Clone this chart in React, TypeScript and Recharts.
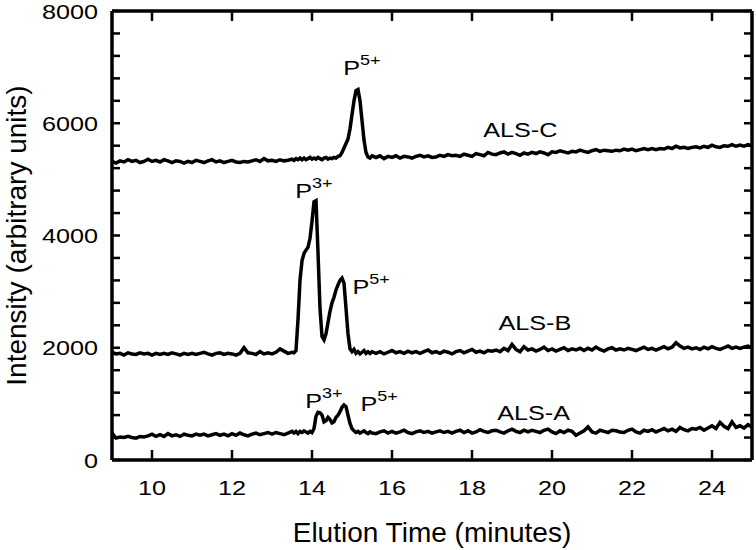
import React from "react";
import { LineChart, Line, XAxis, YAxis, ReferenceDot } from "recharts";

// elution time grid (minutes); finer around the peaks
const times1 = [
  9.0, 9.1, 9.2, 9.3, 9.4, 9.5, 9.6, 9.7, 9.8, 9.9,
  10.0, 10.1, 10.2, 10.3, 10.4, 10.5, 10.6, 10.7, 10.8, 10.9,
  11.0, 11.1, 11.2, 11.3, 11.4, 11.5, 11.6, 11.7, 11.8, 11.9,
  12.0, 12.1, 12.2, 12.3, 12.4, 12.5, 12.6, 12.7, 12.8, 12.9,
  13.0, 13.1, 13.2, 13.3, 13.4, 13.5,
];
const times2 = [
  13.55, 13.6, 13.65, 13.7, 13.75, 13.8, 13.85, 13.9, 13.95, 14.0,
  14.05, 14.1, 14.15, 14.2, 14.25, 14.3, 14.35, 14.4, 14.45, 14.5,
  14.55, 14.6, 14.65, 14.7, 14.75, 14.8, 14.85, 14.9, 14.95, 15.0,
  15.05, 15.1, 15.15, 15.2, 15.25, 15.3, 15.35, 15.4, 15.45, 15.5,
];
const times3 = [
  15.6, 15.7, 15.8, 15.9, 16.0, 16.1, 16.2, 16.3, 16.4, 16.5,
  16.6, 16.7, 16.8, 16.9, 17.0, 17.1, 17.2, 17.3, 17.4, 17.5,
  17.6, 17.7, 17.8, 17.9, 18.0, 18.1, 18.2, 18.3, 18.4, 18.5,
  18.6, 18.7, 18.8, 18.9, 19.0, 19.1, 19.2, 19.3, 19.4, 19.5,
  19.6, 19.7, 19.8, 19.9, 20.0, 20.1, 20.2, 20.3, 20.4, 20.5,
  20.6, 20.7, 20.8, 20.9, 21.0, 21.1, 21.2, 21.3, 21.4, 21.5,
  21.6, 21.7, 21.8, 21.9, 22.0, 22.1, 22.2, 22.3, 22.4, 22.5,
  22.6, 22.7, 22.8, 22.9, 23.0, 23.1, 23.2, 23.3, 23.4, 23.5,
  23.6, 23.7, 23.8, 23.9, 24.0, 24.1, 24.2, 24.3, 24.4, 24.5,
  24.6, 24.7, 24.8, 24.9, 25.0,
];

const alsC1 = [
  5320, 5290, 5330, 5310, 5350, 5320, 5340, 5300, 5320, 5360,
  5320, 5340, 5310, 5350, 5330, 5300, 5330, 5320, 5290, 5320,
  5300, 5340, 5320, 5300, 5330, 5350, 5310, 5330, 5300, 5320,
  5340, 5310, 5300, 5320, 5310, 5330, 5350, 5320, 5370, 5330,
  5340, 5320, 5350, 5330, 5340, 5360,
];
const alsC2 = [
  5340, 5370, 5350, 5380, 5350, 5380, 5350, 5370, 5390, 5360,
  5380, 5360, 5390, 5370, 5350, 5380, 5390, 5360, 5380, 5370,
  5390, 5380, 5410, 5420, 5480, 5560, 5640, 5720, 5900, 6150,
  6400, 6580, 6600, 6400, 6050, 5700, 5480, 5400, 5380, 5420,
];
const alsC3 = [
  5390, 5420, 5370, 5410, 5390, 5420, 5380, 5410, 5400, 5380,
  5410, 5430, 5400, 5420, 5390, 5400, 5430, 5410, 5440, 5420,
  5430, 5410, 5450, 5430, 5410, 5460, 5440, 5420, 5480, 5450,
  5440, 5470, 5490, 5450, 5480, 5460, 5430, 5470, 5450, 5480,
  5460, 5490, 5470, 5440, 5490, 5480, 5510, 5490, 5470, 5500,
  5490, 5520, 5500, 5480, 5510, 5530, 5500, 5520, 5510, 5500,
  5520, 5510, 5540, 5520, 5540, 5510, 5530, 5550, 5530, 5550,
  5530, 5550, 5540, 5570, 5550, 5590, 5560, 5570, 5550, 5570,
  5580, 5560, 5590, 5570, 5610, 5580, 5570, 5600, 5590, 5620,
  5590, 5610, 5590, 5620, 5600,
];

const alsB1 = [
  1920, 1890, 1900, 1870, 1910, 1890, 1880, 1910, 1890, 1900,
  1870, 1900, 1880, 1900, 1880, 1910, 1890, 1870, 1900, 1880,
  1900, 1880, 1900, 1920, 1890, 1870, 1900, 1910, 1880, 1900,
  1890, 1870, 1900, 2000, 1910, 1900, 1880, 1930, 1890, 1910,
  1890, 1920, 1980, 1940, 1900, 1920,
];
const alsB2 = [
  1910, 1950, 2500, 3200, 3550, 3680, 3740, 3790, 3950, 4250,
  4600, 4620, 3700, 2700, 2200, 2140, 2250, 2450, 2650, 2800,
  2900, 3030, 3120, 3200, 3240, 3150, 2700, 2250, 1980, 1930,
  1970, 1900, 1930, 1890, 1920, 1950, 1900, 1930, 1900, 1930,
];
const alsB3 = [
  1900, 1930, 1890, 1920, 1950, 1910, 1930, 1900, 1940, 1910,
  1930, 1900, 1930, 1960, 1910, 1930, 1900, 1940, 1920, 1890,
  1930, 1950, 1910, 1940, 1970, 1920, 1940, 1910, 1950, 1940,
  1960, 1930, 1990, 1950, 2060, 1970, 1930, 2020, 1960, 1980,
  1940, 1970, 2010, 1950, 1980, 1940, 1970, 2000, 1950, 1980,
  1960, 1990, 1950, 1990, 1960, 2010, 1970, 1940, 1980, 2000,
  1960, 1980, 1960, 1990, 1970, 1950, 1980, 2010, 1970, 1990,
  1960, 1990, 2020, 1980, 2010, 2090, 2030, 1990, 2010, 1980,
  2000, 1970, 2010, 1980, 2020, 1990, 1970, 2000, 2030, 1990,
  2010, 1990, 2010, 2030, 2000,
];

const alsA1 = [
  480, 390, 410, 400, 420, 400, 390, 420, 410, 430,
  460, 420, 450, 420, 470, 430, 450, 420, 460, 440,
  430, 460, 440, 460, 430, 450, 470, 440, 460, 430,
  470, 440, 480, 450, 430, 460, 480, 450, 470, 490,
  460, 490, 470, 450, 480, 510,
];
const alsA2 = [
  480, 510, 470, 510, 490, 520, 500, 480, 510, 490,
  560, 780, 850, 840, 800, 680, 700, 760, 720, 660,
  680, 760, 800, 860, 940, 980, 950, 800, 650, 560,
  520, 490, 510, 480, 500, 520, 490, 470, 500, 480,
];
const alsA3 = [
  470, 500, 520, 480, 510, 480, 500, 530, 490, 470,
  500, 520, 490, 510, 480, 500, 520, 490, 510, 480,
  510, 530, 490, 520, 480, 500, 540, 510, 490, 520,
  530, 500, 480, 520, 550, 510, 490, 530, 500, 530,
  510, 490, 530, 550, 500, 470, 520, 490, 530, 510,
  440, 480, 520, 590, 500, 480, 530, 510, 490, 530,
  520, 500, 490, 530, 550, 500, 480, 530, 510, 540,
  500, 530, 560, 520, 550, 510, 580, 540, 520, 560,
  550, 580, 530, 570, 610, 560, 670, 600, 560, 680,
  580, 610, 570, 630, 590,
];

const xTicks = [10, 12, 14, 16, 18, 20, 22, 24];
const yTicks = [
  0, 400, 800, 1200, 1600, 2000, 2400, 2800, 3200, 3600, 4000,
  4400, 4800, 5200, 5600, 6000, 6400, 6800, 7200, 7600, 8000,
];

// annotations: [main text, superscript, time, intensity]
const notes: [string, string, number, number][] = [
  ["P", "5+", 14.78, 6860],
  ["P", "3+", 13.58, 4668],
  ["P", "5+", 15.01, 2958],
  ["P", "3+", 13.83, 926],
  ["P", "5+", 15.21, 873],
  ["ALS-C", "", 18.28, 5755],
  ["ALS-B", "", 18.66, 2316],
  ["ALS-A", "", 18.63, 713],
];

const times = [...times1, ...times2, ...times3];
const alsA = [...alsA1, ...alsA2, ...alsA3];
const alsB = [...alsB1, ...alsB2, ...alsB3];
const alsC = [...alsC1, ...alsC2, ...alsC3];
const data = times.map((t, i) => ({ t, a: alsA[i], b: alsB[i], c: alsC[i] }));

const FONT = "'Liberation Sans', Arial, Helvetica, sans-serif";
const SX = 1.2;
const TICK_W = 2.5;

// ticks point into the plot on all four sides
const BottomTick = (props: any) => {
  const { x, y, payload } = props;
  return (
    <g>
      <line x1={x} y1={y} x2={x} y2={y - 10} stroke="#000" strokeWidth={TICK_W} />
      <text transform={`translate(${x} ${y + 20}) scale(${SX} 1)`} textAnchor="middle"
        dy="0.72em" fontSize={21} fontFamily={FONT} fill="#000">
        {payload.value}
      </text>
    </g>
  );
};

const TopTick = (props: any) => {
  const { x, y } = props;
  return <line x1={x} y1={y} x2={x} y2={y + 10} stroke="#000" strokeWidth={TICK_W} />;
};

const LeftTick = (props: any) => {
  const { x, y, payload } = props;
  return (
    <g>
      <line x1={x} y1={y} x2={x + 8} y2={y} stroke="#000" strokeWidth={TICK_W} />
      {payload.value % 2000 === 0 && (
        <text transform={`translate(${x - 14} ${y}) scale(${SX} 1)`} textAnchor="end"
          dy="0.36em" fontSize={21} fontFamily={FONT} fill="#000">
          {payload.value}
        </text>
      )}
    </g>
  );
};

const RightTick = (props: any) => {
  const { x, y } = props;
  return <line x1={x} y1={y} x2={x - 8} y2={y} stroke="#000" strokeWidth={TICK_W} />;
};

const noteLabel = (main: string, sup: string) => (props: any) => {
  const vb = props.viewBox;
  const cx = vb.x + vb.width / 2;
  const cy = vb.y + vb.height / 2;
  return (
    <text transform={`translate(${cx} ${cy}) scale(${SX} 1)`} fontSize={21}
      fontFamily={FONT} fill="#000">
      {main}
      {sup && <tspan dy={-10} fontSize={15}>{sup}</tspan>}
    </text>
  );
};

export default function App() {
  const axisLine = { stroke: "#000", strokeWidth: 3.5 };
  return (
    <div style={{ position: "absolute", left: 0, top: 0, background: "#fff" }}>
      <LineChart width={756} height={550} data={data}
        margin={{ top: 10, right: 3, bottom: 0, left: 0 }}>
        <XAxis dataKey="t" type="number" domain={[9, 25]} ticks={xTicks}
          interval={0} allowDataOverflow height={90} tickSize={0} tickMargin={0}
          axisLine={axisLine} tickLine={false} tick={BottomTick}
          label={{
            content: (p: any) => (
              <text x={p.viewBox.x + p.viewBox.width / 2} y={p.viewBox.y + 82}
                textAnchor="middle" fontSize={28} fontFamily={FONT} fill="#000">
                Elution Time (minutes)
              </text>
            ),
          }} />
        <XAxis xAxisId="top" dataKey="t" orientation="top" type="number" domain={[9, 25]}
          ticks={xTicks} interval={0} allowDataOverflow height={1} tickSize={0}
          tickMargin={0} axisLine={axisLine} tickLine={false} tick={TopTick} />
        <YAxis type="number" domain={[0, 8000]} ticks={yTicks} interval={0}
          allowDataOverflow width={112} tickSize={0} tickMargin={0}
          axisLine={axisLine} tickLine={false} tick={LeftTick}
          label={{
            content: (p: any) => (
              <text transform={`translate(26 ${p.viewBox.y + p.viewBox.height / 2}) rotate(-90)`}
                textAnchor="middle" fontSize={28} fontFamily={FONT} fill="#000">
                Intensity (arbitrary units)
              </text>
            ),
          }} />
        <YAxis yAxisId="right" orientation="right" type="number" domain={[0, 8000]}
          ticks={yTicks} interval={0} allowDataOverflow width={1} tickSize={0}
          tickMargin={0} axisLine={axisLine} tickLine={false} tick={RightTick} />
        <Line dataKey="a" stroke="#000" strokeWidth={3.5} dot={false} activeDot={false}
          isAnimationActive={false} />
        <Line dataKey="b" stroke="#000" strokeWidth={3.5} dot={false} activeDot={false}
          isAnimationActive={false} />
        <Line dataKey="c" stroke="#000" strokeWidth={3.5} dot={false} activeDot={false}
          isAnimationActive={false} />
        {/* invisible copy so the mirrored frame axes are bound to a series */}
        <Line xAxisId="top" yAxisId="right" dataKey="c" stroke="none" dot={false}
          activeDot={false} isAnimationActive={false} legendType="none" />
        {notes.map(([main, sup, t, v], i) => (
          <ReferenceDot key={i} x={t} y={v} r={1} fill="none" stroke="none"
            ifOverflow="visible" label={{ content: noteLabel(main, sup) }} />
        ))}
      </LineChart>
    </div>
  );
}
